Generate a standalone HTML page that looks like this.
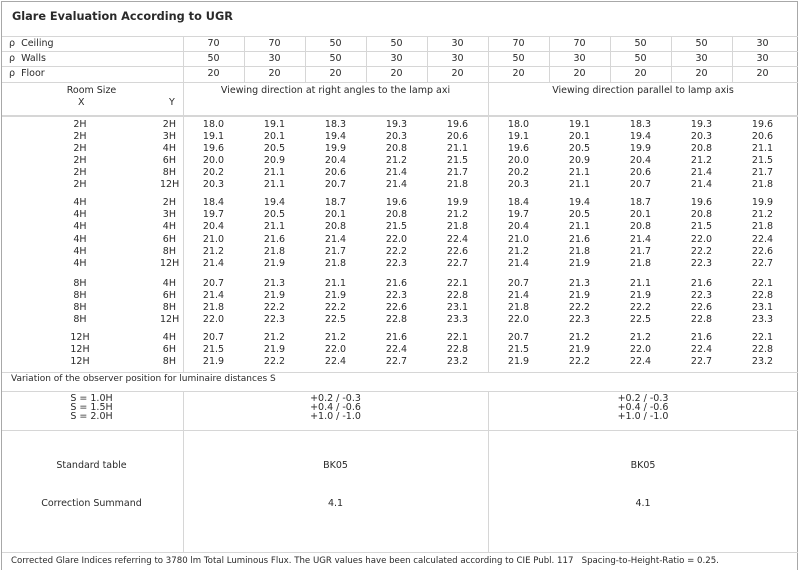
<!DOCTYPE html>
<html><head><meta charset="utf-8"><style>
*{margin:0;padding:0;box-sizing:border-box}
body{width:800px;height:571px;background:#fff;position:relative;overflow:hidden;font-family:"DejaVu Sans","Liberation Sans",sans-serif;font-size:9.5px;color:#2a2a2a}
.frame{position:absolute;left:1px;top:1px;width:797px;height:569px;border:1px solid #a8a8a8;border-bottom:none}
.h{position:absolute;height:1px;background:#d6d6d6;left:2px;width:796px}
.v{position:absolute;width:1px;background:#d6d6d6}
.t{position:absolute;white-space:nowrap;line-height:12px}
.r{position:absolute;left:0;display:grid;grid-template-columns:160px 23px repeat(10,61px);line-height:12px;height:12px}
.r span{text-align:center}
.r span:nth-child(2){text-align:right;padding-right:7px;overflow:visible;white-space:nowrap}
.title{font-weight:bold;font-size:11.3px;left:12px;top:11px}
</style></head><body>
<div class="frame"></div>
<div class="t title">Glare Evaluation According to UGR</div>
<div class="h" style="top:36px"></div>
<div class="h" style="top:51px"></div>
<div class="h" style="top:66px"></div>
<div class="h" style="top:82px"></div>
<div class="h" style="top:115px;height:2px"></div>
<div class="h" style="top:372px"></div>
<div class="h" style="top:391px"></div>
<div class="h" style="top:430px"></div>
<div class="h" style="top:552px"></div>
<div class="v" style="left:183px;top:36px;height:336px"></div>
<div class="v" style="left:488px;top:36px;height:336px"></div>
<div class="v" style="left:183px;top:391px;height:161px"></div>
<div class="v" style="left:488px;top:391px;height:161px"></div>
<div class="v" style="left:244px;top:36px;height:46px"></div>
<div class="v" style="left:305px;top:36px;height:46px"></div>
<div class="v" style="left:366px;top:36px;height:46px"></div>
<div class="v" style="left:427px;top:36px;height:46px"></div>
<div class="v" style="left:549px;top:36px;height:46px"></div>
<div class="v" style="left:610px;top:36px;height:46px"></div>
<div class="v" style="left:671px;top:36px;height:46px"></div>
<div class="v" style="left:732px;top:36px;height:46px"></div>

<div class="t" style="left:9px;top:38px">ρ&nbsp; Ceiling</div>
<div class="t" style="left:9px;top:53px">ρ&nbsp; Walls</div>
<div class="t" style="left:9px;top:68px">ρ&nbsp; Floor</div>
<div class="r" style="top:38px"><span></span><span></span><span>70</span><span>70</span><span>50</span><span>50</span><span>30</span><span>70</span><span>70</span><span>50</span><span>50</span><span>30</span></div>
<div class="r" style="top:53px"><span></span><span></span><span>50</span><span>30</span><span>50</span><span>30</span><span>30</span><span>50</span><span>30</span><span>50</span><span>30</span><span>30</span></div>
<div class="r" style="top:68px"><span></span><span></span><span>20</span><span>20</span><span>20</span><span>20</span><span>20</span><span>20</span><span>20</span><span>20</span><span>20</span><span>20</span></div>

<div class="t" style="left:0;width:183px;text-align:center;top:85px">Room Size</div>
<div class="t" style="left:78px;top:97px">X</div>
<div class="t" style="left:169px;top:97px">Y</div>
<div class="t" style="left:183px;width:305px;text-align:center;top:85px">Viewing direction at right angles to the lamp axi</div>
<div class="t" style="left:488px;width:310px;text-align:center;top:85px">Viewing direction parallel to lamp axis</div>

<div class="r" style="top:119px"><span>2H</span><span>2H</span><span>18.0</span><span>19.1</span><span>18.3</span><span>19.3</span><span>19.6</span><span>18.0</span><span>19.1</span><span>18.3</span><span>19.3</span><span>19.6</span></div>
<div class="r" style="top:131px"><span>2H</span><span>3H</span><span>19.1</span><span>20.1</span><span>19.4</span><span>20.3</span><span>20.6</span><span>19.1</span><span>20.1</span><span>19.4</span><span>20.3</span><span>20.6</span></div>
<div class="r" style="top:143px"><span>2H</span><span>4H</span><span>19.6</span><span>20.5</span><span>19.9</span><span>20.8</span><span>21.1</span><span>19.6</span><span>20.5</span><span>19.9</span><span>20.8</span><span>21.1</span></div>
<div class="r" style="top:155px"><span>2H</span><span>6H</span><span>20.0</span><span>20.9</span><span>20.4</span><span>21.2</span><span>21.5</span><span>20.0</span><span>20.9</span><span>20.4</span><span>21.2</span><span>21.5</span></div>
<div class="r" style="top:167px"><span>2H</span><span>8H</span><span>20.2</span><span>21.1</span><span>20.6</span><span>21.4</span><span>21.7</span><span>20.2</span><span>21.1</span><span>20.6</span><span>21.4</span><span>21.7</span></div>
<div class="r" style="top:179px"><span>2H</span><span>12H</span><span>20.3</span><span>21.1</span><span>20.7</span><span>21.4</span><span>21.8</span><span>20.3</span><span>21.1</span><span>20.7</span><span>21.4</span><span>21.8</span></div>

<div class="r" style="top:197px"><span>4H</span><span>2H</span><span>18.4</span><span>19.4</span><span>18.7</span><span>19.6</span><span>19.9</span><span>18.4</span><span>19.4</span><span>18.7</span><span>19.6</span><span>19.9</span></div>
<div class="r" style="top:209px"><span>4H</span><span>3H</span><span>19.7</span><span>20.5</span><span>20.1</span><span>20.8</span><span>21.2</span><span>19.7</span><span>20.5</span><span>20.1</span><span>20.8</span><span>21.2</span></div>
<div class="r" style="top:221px"><span>4H</span><span>4H</span><span>20.4</span><span>21.1</span><span>20.8</span><span>21.5</span><span>21.8</span><span>20.4</span><span>21.1</span><span>20.8</span><span>21.5</span><span>21.8</span></div>
<div class="r" style="top:234px"><span>4H</span><span>6H</span><span>21.0</span><span>21.6</span><span>21.4</span><span>22.0</span><span>22.4</span><span>21.0</span><span>21.6</span><span>21.4</span><span>22.0</span><span>22.4</span></div>
<div class="r" style="top:246px"><span>4H</span><span>8H</span><span>21.2</span><span>21.8</span><span>21.7</span><span>22.2</span><span>22.6</span><span>21.2</span><span>21.8</span><span>21.7</span><span>22.2</span><span>22.6</span></div>
<div class="r" style="top:258px"><span>4H</span><span>12H</span><span>21.4</span><span>21.9</span><span>21.8</span><span>22.3</span><span>22.7</span><span>21.4</span><span>21.9</span><span>21.8</span><span>22.3</span><span>22.7</span></div>

<div class="r" style="top:278px"><span>8H</span><span>4H</span><span>20.7</span><span>21.3</span><span>21.1</span><span>21.6</span><span>22.1</span><span>20.7</span><span>21.3</span><span>21.1</span><span>21.6</span><span>22.1</span></div>
<div class="r" style="top:290px"><span>8H</span><span>6H</span><span>21.4</span><span>21.9</span><span>21.9</span><span>22.3</span><span>22.8</span><span>21.4</span><span>21.9</span><span>21.9</span><span>22.3</span><span>22.8</span></div>
<div class="r" style="top:302px"><span>8H</span><span>8H</span><span>21.8</span><span>22.2</span><span>22.2</span><span>22.6</span><span>23.1</span><span>21.8</span><span>22.2</span><span>22.2</span><span>22.6</span><span>23.1</span></div>
<div class="r" style="top:314px"><span>8H</span><span>12H</span><span>22.0</span><span>22.3</span><span>22.5</span><span>22.8</span><span>23.3</span><span>22.0</span><span>22.3</span><span>22.5</span><span>22.8</span><span>23.3</span></div>

<div class="r" style="top:332px"><span>12H</span><span>4H</span><span>20.7</span><span>21.2</span><span>21.2</span><span>21.6</span><span>22.1</span><span>20.7</span><span>21.2</span><span>21.2</span><span>21.6</span><span>22.1</span></div>
<div class="r" style="top:344px"><span>12H</span><span>6H</span><span>21.5</span><span>21.9</span><span>22.0</span><span>22.4</span><span>22.8</span><span>21.5</span><span>21.9</span><span>22.0</span><span>22.4</span><span>22.8</span></div>
<div class="r" style="top:356px"><span>12H</span><span>8H</span><span>21.9</span><span>22.2</span><span>22.4</span><span>22.7</span><span>23.2</span><span>21.9</span><span>22.2</span><span>22.4</span><span>22.7</span><span>23.2</span></div>

<div class="t" style="left:11px;top:373px;font-size:9px">Variation of the observer position for luminaire distances S</div>
<div class="t" style="left:0;width:183px;text-align:center;top:394px;line-height:9px">S = 1.0H<br>S = 1.5H<br>S = 2.0H</div>
<div class="t" style="left:183px;width:305px;text-align:center;top:394px;line-height:9px">+0.2 / -0.3<br>+0.4 / -0.6<br>+1.0 / -1.0</div>
<div class="t" style="left:488px;width:310px;text-align:center;top:394px;line-height:9px">+0.2 / -0.3<br>+0.4 / -0.6<br>+1.0 / -1.0</div>
<div class="t" style="left:0;width:183px;text-align:center;top:460px">Standard table</div>
<div class="t" style="left:183px;width:305px;text-align:center;top:460px">BK05</div>
<div class="t" style="left:488px;width:310px;text-align:center;top:460px">BK05</div>
<div class="t" style="left:0;width:183px;text-align:center;top:498px">Correction Summand</div>
<div class="t" style="left:183px;width:305px;text-align:center;top:498px">4.1</div>
<div class="t" style="left:488px;width:310px;text-align:center;top:498px">4.1</div>
<div class="t" style="left:11px;top:555px;font-size:8.6px">Corrected Glare Indices referring to 3780 lm Total Luminous Flux. The UGR values have been calculated according to CIE Publ. 117 &nbsp;&nbsp;Spacing-to-Height-Ratio = 0.25.</div>
</body></html>
